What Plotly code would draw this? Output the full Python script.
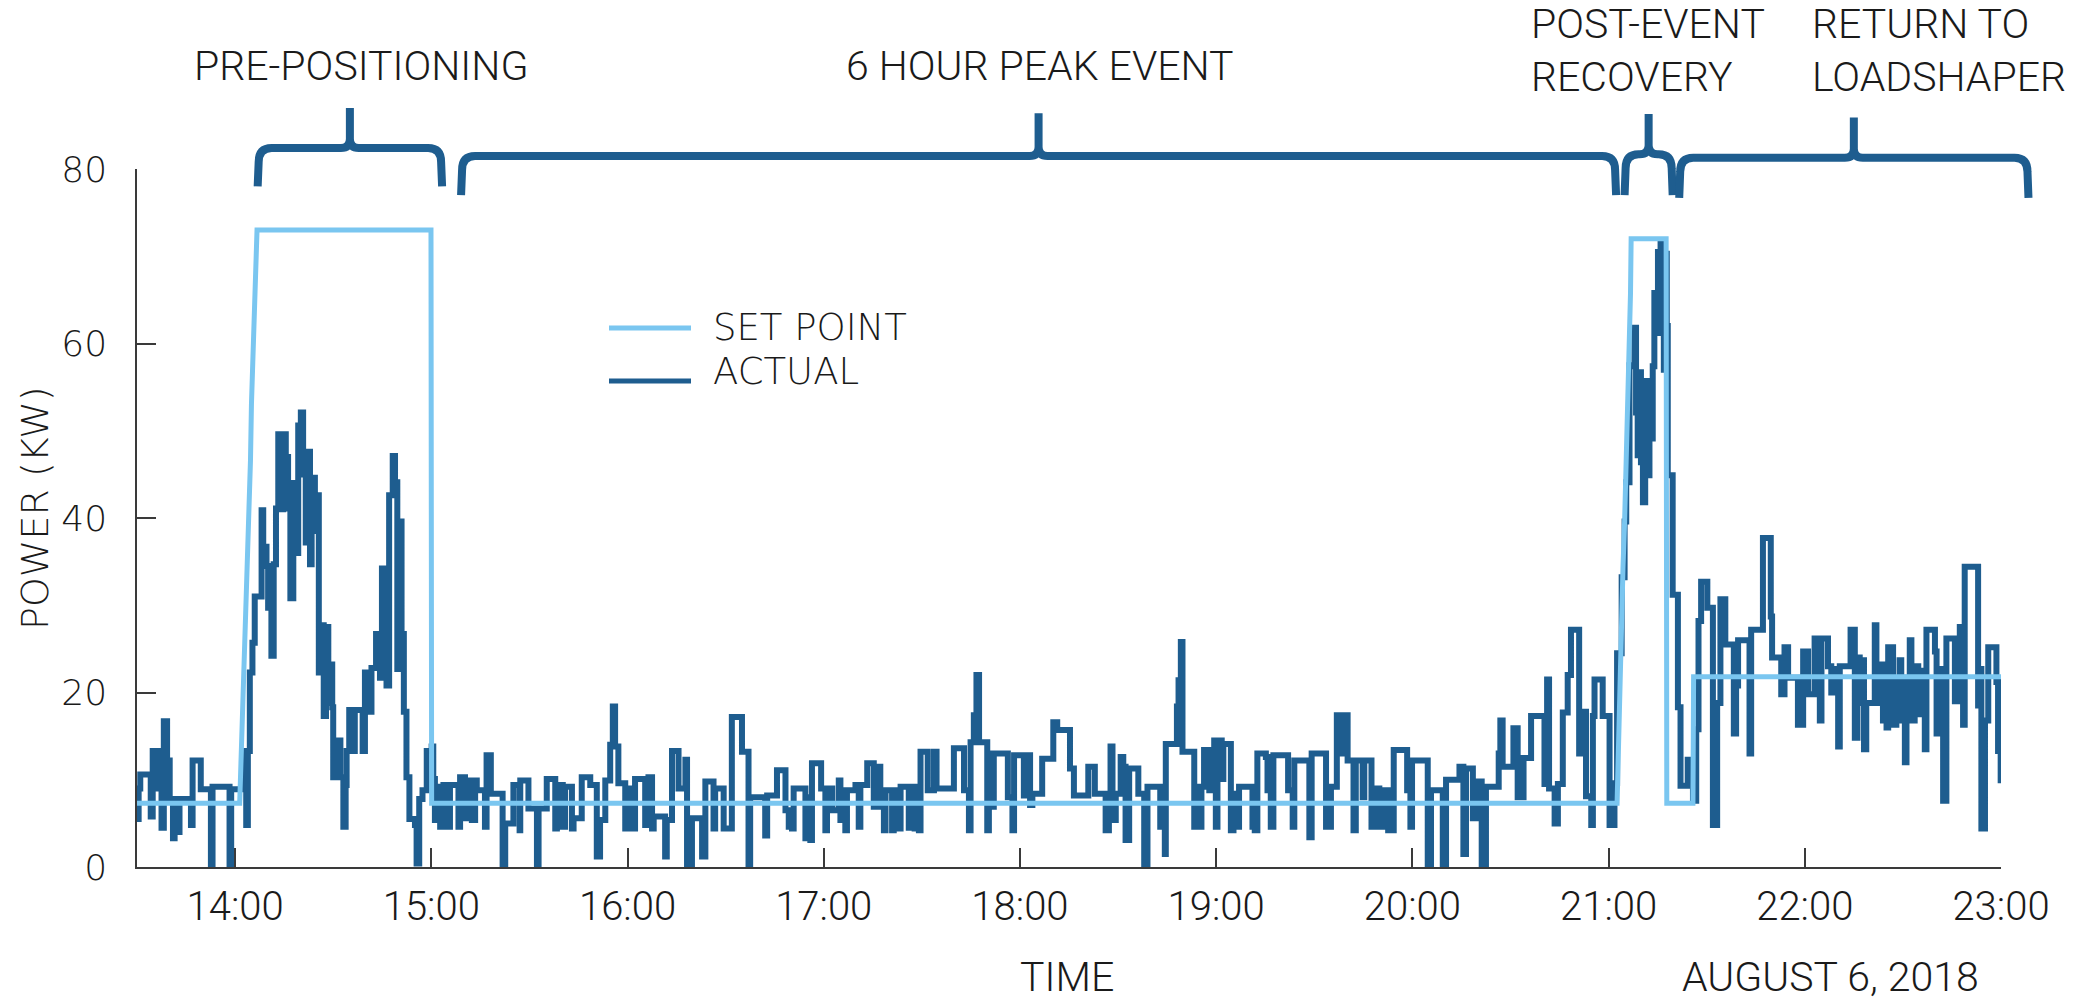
import pandas as pd
import plotly.graph_objects as go

# ---------------- data ----------------
START = pd.Timestamp("2018-08-06 13:30")
RANGE_MIN = 570  # 13:30 -> 23:00

actual_minutes = [
    0, 0.5, 1, 4.2, 4.8, 5.5, 6, 7, 7.5, 8.2, 9.2, 10, 11, 11.5, 12.5, 13, 16.5, 17, 19.5,
    22.6, 23.1, 28.3, 28.8, 32.2, 33.4, 33.9, 34.5, 35.3, 36, 38.1, 38.6, 39.6, 40.1, 40.6,
    41.1, 41.8, 42.5, 43.2, 44.2, 44.7, 45.5, 46.2, 46.9, 47.8, 48.6, 49.3, 50.1, 50.8, 51.6,
    52.0, 52.9, 53.4, 54.4, 54.9, 55.6, 56.4, 57.1, 57.8, 58.5, 59.2, 59.7, 60.0, 61.8, 62.2,
    63.1, 63.8, 64.1, 64.9, 65.9, 66.6, 69.0, 69.7, 71.0, 71.7, 73.1, 74.3, 74.9, 75.5, 76.3,
    77.1, 78.2, 78.9, 79.6, 80.4, 80.9, 81.6, 82.4, 83.3, 85.0, 85.5, 86.3, 87.3, 88.6,
    90.1, 90.6, 91.1, 92.1, 92.7, 93.7, 95.2, 95.7, 98.3, 98.8, 100.3, 101.3, 102.4, 103.4,
    103.9, 106.4, 106.9, 108.2, 111.8, 112.6, 115.1, 117.0, 117.2, 119.7, 122.3, 122.8, 125.3,
    127.9, 128.4, 130.2, 130.9, 133.0, 133.5, 136.0, 138.6, 140.6, 141.6, 143.2, 144.7, 145.5,
    146.2, 147.2, 149.3, 150.3, 151.3, 152.3, 155.4, 156.4, 157.5, 158.0, 161.5, 162.0, 163.6,
    165.6, 167.7, 168.2, 169.7, 172.8, 173.8, 176.3, 176.8, 179.4, 181.9, 185.0, 187.0, 187.5,
    192.1, 192.7, 195.7, 198.3, 199.3, 200.3, 200.8, 204.4, 205.4, 205.9, 206.4, 209.2, 210.5,
    211.0, 212.6, 214.6, 215.1, 216.1, 216.6, 217.1, 219.7, 220.7, 221.2, 223.3, 225.3, 226.5,
    227.3, 228.4, 228.9, 230.9, 231.4, 232.4, 233.5, 236.0, 236.5, 237.8, 238.4, 239.1, 239.6,
    241.8, 243.7, 244.5, 249.8, 252.9, 254.4, 254.9, 255.9, 256.7, 257.5, 260.0, 260.5, 261.0,
    262.0, 266.3, 267.7, 268.2, 271.2, 271.7, 273.1, 273.8, 276.8, 280.2, 281.4, 285.3, 286.5,
    290.9, 292.9, 296.2, 297.2, 297.7, 298.3, 299.3, 300.8, 301.6, 302.3, 303.4, 306.2, 308.0,
    309.0, 312.9, 313.6, 314.3, 314.6, 318.0, 318.5, 319.2, 319.7, 323.3, 323.8, 325.1, 325.5,
    326.3, 327.9, 328.4, 329.4, 329.9, 330.4, 331.7, 332.2, 334.5, 335.3, 336.3, 337.0, 341.1,
    341.8, 342.6, 345.2, 345.7, 346.7, 347.5, 352.0, 353.4, 353.9, 358.5, 359.2, 363.6, 365.1,
    366.9, 368.7, 369.2, 370.2, 372.0, 372.7, 374.8, 375.3, 377.5, 378.6, 379.9, 380.9, 382.6,
    384.3, 388.4, 389.4, 389.9, 394.7, 395.7, 399.3, 400.3, 404.4, 405.6, 406.4, 408.5, 409.5,
    411.2, 412.5, 416.4, 416.9, 417.6, 420.9, 422.2, 424.0, 426.3, 430.4, 431.2, 431.8, 433.5,
    434.5, 436.0, 437.5, 438.5, 441.0, 441.6, 443.1, 444.7, 445.2, 445.7, 448.2, 450.3, 451.8,
    452.6, 454.0, 454.9, 455.4, 456.4, 456.9, 457.9, 458.4, 458.9, 459.4, 459.9, 460.5, 461.2,
    462.0, 462.5, 463.0, 463.5, 464.0, 464.5, 465.1, 465.9, 466.6, 466.9, 467.3, 467.8, 468.1,
    469.6, 471.2, 472.0, 474.2, 475.8, 476.8, 477.5, 478.3, 480.2, 481.9, 483.2, 484.2, 485.7,
    488.3, 489.0, 489.6, 493.1, 493.6, 497.2, 499.6, 500.0, 502.8, 503.8, 504.9, 507.9, 509.5,
    511.0, 513.0, 514.6, 515.1, 517.1, 518.1, 519.7, 520.2, 520.7, 524.0, 525.3, 526.1, 526.8,
    527.8, 528.1, 528.8, 531.4, 531.9, 533.4, 533.9, 535.0, 535.5, 537.0, 538.0, 539.0, 539.5,
    540.6, 541.1, 542.1, 542.6, 543.6, 544.7, 545.5, 546.7, 547.2, 549.8, 550.3, 551.3, 552.3,
    553.3, 555.9, 557.4, 558.4, 558.9, 563.0, 563.5, 564.0, 565.1, 566.1, 568.6, 569.1, 569.9,
]
actual_kw = [
    5.5, 9.0, 10.6, 5.8, 13.3, 9.0, 13.3, 10.5, 4.5, 16.7, 12.2, 7.8, 3.3, 7.8, 4.0, 7.8, 4.8, 12.2, 8.9,
    0.3, 9.2, 0.3, 8.9, 13.3, 4.8, 13.3, 22.3, 25.7, 31.0, 40.9, 36.7, 34.5, 29.7, 34.2,
    24.2, 34.7, 41.1, 49.6, 41.0, 49.6, 47.0, 41.1, 30.8, 44.0, 36.0, 50.6, 52.1, 45.0, 37.2,
    47.6, 34.7, 44.6, 38.5, 42.6, 22.3, 27.7, 17.3, 27.5, 18.8, 23.2, 18.3, 10.3, 14.5, 10.3,
    4.6, 9.4, 13.3, 18.0, 13.3, 18.0, 13.3, 22.3, 17.8, 22.8, 26.7, 21.7, 34.2, 24.0, 20.8,
    42.6, 47.1, 44.1, 22.7, 39.6, 26.7, 17.8, 10.3, 5.5, 4.8, 0.4, 7.8, 8.8, 13.3,
    13.8, 10.1, 5.4, 9.2, 4.6, 9.4, 4.6, 9.4, 4.6, 10.3, 5.6, 9.9, 5.4, 9.9,
    8.8, 4.6, 12.8, 8.4, 0.2, 5.0, 9.4, 4.2, 9.9, 6.7, 0.2, 6.7, 10.1,
    4.4, 9.4, 4.6, 9.2, 4.4, 5.6, 10.3, 9.4, 1.2, 5.4, 9.9, 14.0, 18.4,
    13.8, 9.6, 4.4, 9.0, 4.4, 10.1, 4.8, 10.3, 4.4, 5.8, 1.2, 5.4, 13.3,
    9.0, 12.3, 0.2, 5.6, 1.2, 9.8, 4.4, 9.0, 4.4, 17.2, 13.2, 0.2, 8.0,
    3.6, 8.2, 11.1, 6.5, 4.6, 4.4, 9.0, 3.3, 8.0, 3.1, 11.9, 9.0, 4.2,
    9.0, 6.5, 9.9, 5.4, 8.8, 4.2, 8.8, 9.4, 4.6, 9.4, 11.9, 6.9, 11.5,
    6.9, 4.2, 8.8, 4.2, 8.8, 4.4, 9.2, 4.5, 9.2, 4.4, 9.2, 4.2, 13.2,
    8.8, 13.2, 9.0, 13.6, 8.8, 4.2, 14.3, 17.4, 22.0, 14.3, 4.2, 13.0, 6.9,
    13.0, 8.0, 4.2, 12.8, 8.2, 12.8, 7.1, 8.4, 12.4, 16.6, 15.7, 11.3, 8.2,
    11.5, 8.4, 4.2, 8.4, 13.8, 5.4, 8.4, 12.6, 11.5, 3.1, 11.3, 8.4, 0.0,
    9.2, 4.6, 9.2, 1.5, 14.1, 18.4, 21.4, 25.8, 13.2, 4.6, 9.2, 4.6, 9.2,
    13.4, 8.8, 13.4, 14.5, 4.6, 14.5, 10.1, 14.1, 4.2, 8.4, 4.6, 9.2, 4.6,
    4.2, 13.0, 12.6, 8.8, 4.6, 12.8, 8.8, 4.6, 12.2, 3.4, 13.0, 4.6, 9.2,
    17.4, 13.0, 17.4, 12.2, 4.2, 12.2, 8.0, 12.2, 4.6, 9.0, 4.6, 8.8, 4.2,
    13.4, 8.8, 4.6, 12.2, 0.2, 8.8, 0.2, 10.0, 11.5, 1.5, 11.3, 5.6, 9.8,
    0.2, 9.2, 13.0, 16.8, 11.5, 15.9, 8.0, 12.5, 17.3, 9.5, 21.5, 9.0, 5.0,
    9.5, 17.7, 22.0, 27.2, 13.0, 17.8, 8.1, 4.8, 17.3, 21.5, 17.3, 4.8, 9.6,
    24.5, 33.2, 39.6, 44.1, 57.5, 57.4, 61.8, 52.1, 47.2, 56.7, 46.4, 41.8, 55.7,
    44.9, 55.5, 49.1, 57.4, 65.8, 61.2, 70.5, 71.5, 62.7, 57.0, 70.3, 62.0, 44.9,
    31.2, 18.3, 9.3, 12.3, 7.6, 15.8, 28.2, 32.7, 29.7, 4.8, 18.8, 30.7, 25.5,
    15.3, 20.8, 26.0, 13.0, 27.2, 37.7, 28.7, 24.0, 19.8, 25.2, 21.7, 16.3, 24.7,
    19.8, 26.2, 16.8, 26.2, 23.0, 20.0, 22.7, 13.8, 23.0, 27.2, 14.8, 24.0, 18.8,
    23.7, 13.5, 18.8, 27.7, 18.8, 23.2, 16.8, 16.0, 25.2, 16.3, 21.2, 23.7, 16.8,
    12.0, 21.7, 26.0, 16.8, 23.0, 17.5, 22.5, 13.5, 27.2, 24.7, 15.3, 22.7, 7.6,
    26.2, 19.0, 27.5, 16.3, 34.4, 18.5, 22.7, 4.4, 16.8, 25.2, 21.2, 13.3, 9.6,
]

setpoint_minutes = [0, 31.4, 31.9, 32.5, 33.0, 33.5, 34.3, 34.7, 35.0, 35.5, 36.0, 36.7,
                    89.9, 90.1, 452.6, 453.3, 453.8, 454.4, 454.9, 455.4, 455.9, 456.1,
                    456.7, 456.9, 467.6, 467.8, 475.8, 476.0, 570]
setpoint_kw = [7.3, 7.3, 13.3, 20.3, 27.2, 33.7, 40.1, 46.6, 53.1, 59.5, 66.5, 73.0,
               73.0, 7.3, 7.3, 20.3, 26.7, 34.2, 39.6, 46.6, 52.6, 59.0,
               65.7, 72.0, 72.0, 7.3, 7.3, 21.8, 21.8]

hour_labels = ["14:00", "15:00", "16:00", "17:00", "18:00", "19:00", "20:00", "21:00", "22:00", "23:00"]
y_ticks = [0, 20, 40, 60, 80]

phase_labels = ["PRE-POSITIONING", "6 HOUR PEAK EVENT", "POST-EVENT<br>RECOVERY", "RETURN TO<br>LOADSHAPER"]
phase_start_min = [36.9, 99.1, 454.9, 471.6]
phase_end_min = [93.3, 452.3, 469.6, 578.4]

# ---------------- styling ----------------
BODY = 8                       # default body margin of the html page
PAGE_W, PAGE_H = 2098, 997
PLOT_L, PLOT_T = 137, 169      # plot area position on the page
PW, PH = 1864, 698
FIG_W, FIG_H = PAGE_W - BODY, PAGE_H - BODY
ML, MT = PLOT_L - BODY, PLOT_T - BODY
MR = FIG_W - ML - PW
MB = FIG_H - MT - PH

DARK = "#1E5D8F"
LIGHT = "#7AC6F0"
AXIS = "#3a3a3a"
TXT = "#1a1a1a"
NARROW = "Roboto"
WIDE = "DejaVu Sans"


def to_time(mins):
    return [START + pd.Timedelta(minutes=m) for m in mins]


def px_x(px):
    return (px - PLOT_L) / PW


def px_y(py):
    return (PLOT_T + PH - py) / PH


def min_to_px(m):
    return PLOT_L + m / RANGE_MIN * PW


def kw_to_px(v):
    return PLOT_T + PH * (1 - v / 80.0)


fig = go.Figure()
fig.add_trace(go.Scatter(x=to_time(actual_minutes), y=actual_kw, mode="lines",
                         line=dict(color=DARK, width=6, shape="hv"), name="ACTUAL",
                         showlegend=False))
fig.add_trace(go.Scatter(x=to_time(setpoint_minutes), y=setpoint_kw, mode="lines",
                         line=dict(color=LIGHT, width=5), name="SET POINT",
                         showlegend=False))

# braces over the phases
brace_levels = [(82.4, 78.0, 87.0), (81.5, 77.0, 86.4), (81.7, 77.0, 86.3), (81.3, 76.7, 85.9)]
shapes = []
for t0, t1, (vt, vb, vp) in zip(phase_start_min, phase_end_min, brace_levels):
    X0, X1 = min_to_px(t0), min_to_px(t1)
    Xm = (X0 + X1) / 2
    Yt, Yb, Yp = kw_to_px(vt), kw_to_px(vb), kw_to_px(vp)
    r, f, g = 14, 9, 9
    pts = [
        ("M", [(X0, Yb)]),
        ("L", [(X0 + 1, Yt + r)]),
        ("Q", [(X0 + 1, Yt), (X0 + r, Yt)]),
        ("L", [(Xm - f, Yt)]),
        ("Q", [(Xm, Yt), (Xm, Yt - g)]),
        ("L", [(Xm, Yp)]),
        ("L", [(Xm, Yt - g)]),
        ("Q", [(Xm, Yt), (Xm + f, Yt)]),
        ("L", [(X1 - r, Yt)]),
        ("Q", [(X1 - 1, Yt), (X1 - 1, Yt + r)]),
        ("L", [(X1, Yb)]),
    ]
    path = " ".join(
        cmd + " " + " ".join(f"{px_x(a):.5f},{px_y(b):.5f}" for a, b in p) for cmd, p in pts
    )
    shapes.append(dict(type="path", path=path, xref="paper", yref="paper",
                       line=dict(color=DARK, width=8)))

# custom legend lines
shapes.append(dict(type="line", xref="paper", yref="paper", x0=px_x(609), x1=px_x(691),
                   y0=px_y(328), y1=px_y(328), line=dict(color=LIGHT, width=5)))
shapes.append(dict(type="line", xref="paper", yref="paper", x0=px_x(609), x1=px_x(691),
                   y0=px_y(381), y1=px_y(381), line=dict(color=DARK, width=5)))

ann = []
title_font = dict(family=NARROW, size=41, color=TXT, weight=300)
ann.append(dict(text=phase_labels[0], x=px_x(361), y=px_y(66), xanchor="center", yanchor="middle"))
ann.append(dict(text=phase_labels[1], x=px_x(1040), y=px_y(66), xanchor="center", yanchor="middle"))
ann.append(dict(text=phase_labels[2], x=px_x(1529), y=px_y(50), xanchor="left", yanchor="middle", align="left"))
ann.append(dict(text=phase_labels[3], x=px_x(1810), y=px_y(50), xanchor="left", yanchor="middle", align="left"))
ann.append(dict(text="TIME", x=px_x(1067), y=px_y(977), xanchor="center", yanchor="middle"))
ann.append(dict(text="AUGUST 6, 2018", x=px_x(1981), y=px_y(977), xanchor="right", yanchor="middle"))
for a in ann:
    a.update(xref="paper", yref="paper", showarrow=False, font=title_font)

wide_font = dict(family=WIDE, size=37, color=TXT, weight=200)
ann.append(dict(text="SET POINT", x=px_x(711), y=px_y(327), xanchor="left", yanchor="middle",
                xref="paper", yref="paper", showarrow=False, font=wide_font))
ann.append(dict(text="ACTUAL", x=px_x(711), y=px_y(371), xanchor="left", yanchor="middle",
                xref="paper", yref="paper", showarrow=False, font=wide_font))
ann.append(dict(text="POWER (KW)", x=px_x(35), y=px_y(508), xanchor="center", yanchor="middle",
                textangle=-90, xref="paper", yref="paper", showarrow=False,
                font=dict(family=WIDE, size=38, color=TXT, weight=200)))

tick_times = [pd.Timestamp("2018-08-06 " + h) for h in hour_labels]

fig.update_layout(
    width=FIG_W, height=FIG_H,
    margin=dict(l=ML, r=MR, t=MT, b=MB, pad=0),
    paper_bgcolor="white", plot_bgcolor="white",
    shapes=shapes, annotations=ann,
    showlegend=False,
    xaxis=dict(
        type="date",
        range=[START, START + pd.Timedelta(minutes=RANGE_MIN)],
        tickvals=tick_times, ticktext=hour_labels,
        ticks="inside", ticklen=19, tickwidth=1.5, tickcolor=AXIS,
        showline=True, linecolor=AXIS, linewidth=1.5,
        showgrid=False, zeroline=False,
        tickfont=dict(family=NARROW, size=40, color=TXT, weight=300),
        ticklabelstandoff=3,
    ),
    yaxis=dict(
        range=[0, 80], tickvals=y_ticks,
        ticks="inside", ticklen=19, tickwidth=1.5, tickcolor=AXIS,
        showline=True, linecolor=AXIS, linewidth=1.5,
        showgrid=False, zeroline=False,
        tickfont=dict(family=WIDE, size=36, color=TXT, weight=200),
        ticklabelstandoff=21,
    ),
)

fig.write_html("out.html")
